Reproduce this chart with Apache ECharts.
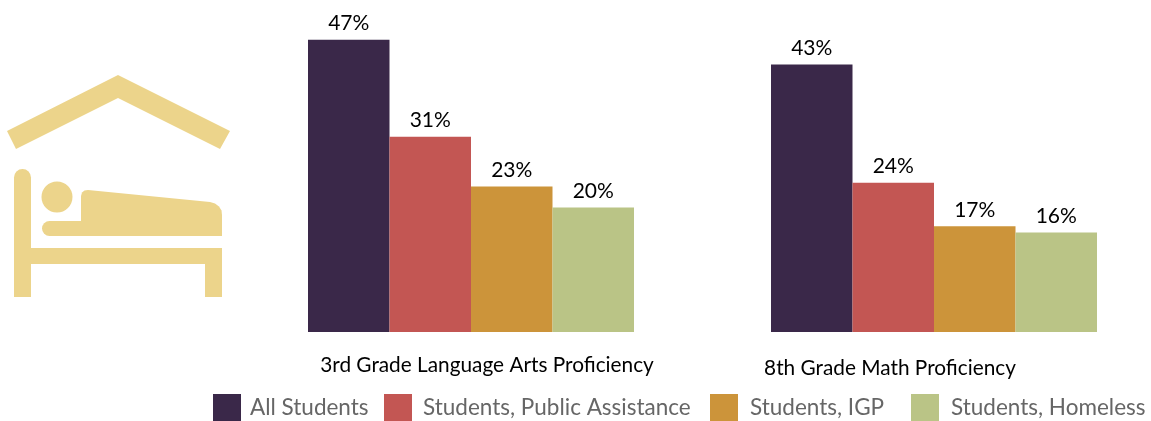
<!DOCTYPE html>
<html><head><meta charset="utf-8">
<style>html,body{margin:0;padding:0;background:#fff}#c{width:1151px;height:421px}</style>
<script src="https://cdn.jsdelivr.net/npm/echarts@6/dist/echarts.min.js"></script>
</head><body><div id="c"></div>
<script>
const categories = ['3rd Grade Language Arts Proficiency', '8th Grade Math Proficiency'];
const seriesNames = ['All Students', 'Students, Public Assistance', 'Students, IGP', 'Students, Homeless'];
const allStudents = [47, 43];
const publicAssistance = [31.4, 24];
const igp = [23.4, 17];
const homeless = [20, 16];
const colors = ['#3A2849', '#C35653', '#CC943A', '#BAC486'];
const iconColor = '#ECD48B';
const fontFamily = 'Lato, "Open Sans", sans-serif';
const legendLeft = [213, 384, 710, 911];
const legendPad = [4, 6, 7, 7];
const chart = echarts.init(document.getElementById('c'), null, {renderer: 'canvas'});
const values = [allStudents, publicAssistance, igp, homeless];
const iconStyle = {fill: iconColor};
const poly = points => ({type: 'polygon', silent: true, shape: {points}, style: iconStyle});
chart.setOption({
  animation: false,
  grid: {left: 239.5, width: 926, top: 21, height: 311, outerBoundsMode: 'none'},
  legend: seriesNames.map((name, i) => ({
    show: true, left: legendLeft[i], top: 394, padding: 0, itemWidth: 28, itemHeight: 27,
    icon: 'rect', data: [name],
    textStyle: {color: '#666', fontFamily, fontSize: 22.5, padding: [7, 0, 0, legendPad[i]]}
  })),
  xAxis: {
    type: 'category', data: categories,
    axisLine: {show: false}, axisTick: {show: false},
    axisLabel: {
      margin: 23, interval: 0, color: '#000', fontFamily, fontSize: 20.8,
      formatter: (v, i) => `{c${i}|${v}}`,
      rich: {
        c0: {fontFamily, fontSize: 20.8, color: '#000', padding: [0, 0, 0, 32]},
        c1: {fontFamily, fontSize: 20.8, color: '#000', padding: [3, 88, 0, 0]}
      }
    }
  },
  yAxis: {type: 'value', min: 0, max: 50, show: false},
  series: seriesNames.map((name, i) => ({
    name, type: 'bar', data: values[i], barWidth: 81.5, barGap: 0,
    itemStyle: {color: colors[i]},
    label: {show: true, position: 'top', distance: 5.5, color: '#000', fontFamily, fontSize: 21,
      formatter: p => Math.round(p.value) + '%'}
  })),
  graphic: [
    poly([[7,131],[118,75],[230,131],[220,149],[118,98],[16,149]]),
    {type: 'rect', silent: true, shape: {x: 14, y: 169, width: 17, height: 128, r: [8.5,8.5,0,0]}, style: iconStyle},
    poly([[31,248],[222,248],[222,297],[205,297],[205,264],[31,264]]),
    {type: 'circle', silent: true, shape: {cx: 57, cy: 197, r: 15.5}, style: iconStyle},
    poly([[81,196],[82,192.5],[84.5,190.5],[88,190],[210,202],[215,203.5],[219,206.5],[221.5,210.5],[222,215],[222,236],[81,236]]),
    {type: 'rect', silent: true, shape: {x: 42, y: 221, width: 50, height: 15, r: [7.5,0,0,7.5]}, style: iconStyle}
  ]
});
</script></body></html>
